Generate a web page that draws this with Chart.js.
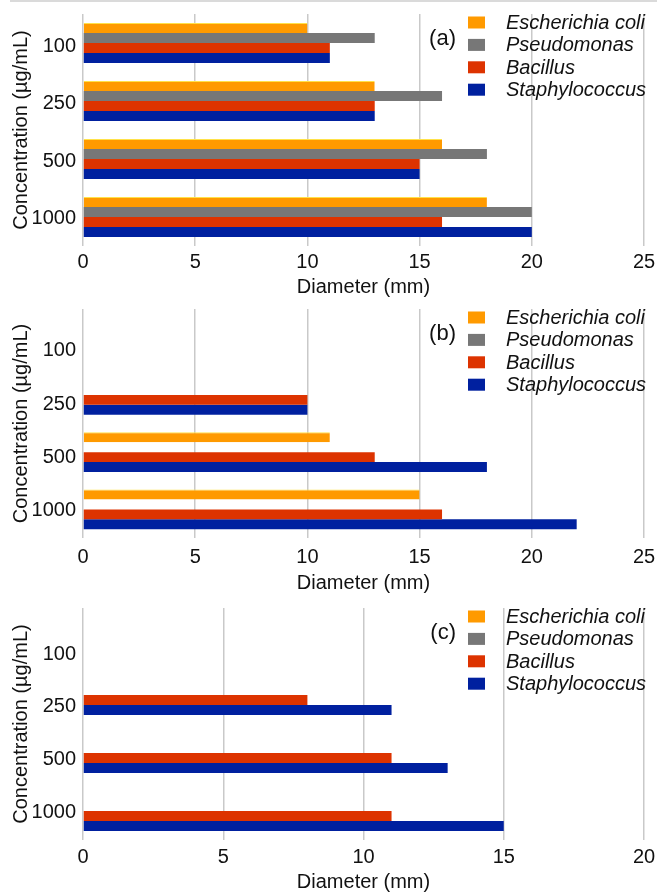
<!DOCTYPE html>
<html>
<head>
<meta charset="utf-8">
<script src="https://cdn.jsdelivr.net/npm/chart.js@4/dist/chart.umd.min.js"></script>
<style>
  html, body { margin: 0; padding: 0; background: #fff; }
  #page { position: relative; width: 657px; height: 892px; overflow: hidden; background: #fff; }
  #rule { position: absolute; left: 10px; right: 0; top: 0; height: 2px; background: #dadada; }
  .panel { position: absolute; left: 0; }
  canvas { display: block; }
</style>
</head>
<body>
<div id="page">
  <div id="rule"></div>
  <div class="panel" id="wrapA" style="top:0px"><canvas id="chartA" width="657" height="297"></canvas></div>
  <div class="panel" id="wrapB" style="top:297px"><canvas id="chartB" width="657" height="296"></canvas></div>
  <div class="panel" id="wrapC" style="top:593px"><canvas id="chartC" width="657" height="299"></canvas></div>
</div>
<script>
// Concentrations tested (y axis categories)
const concentrations = ['100', '250', '500', '1000'];
const species = ['Escherichia coli', 'Pseudomonas', 'Bacillus', 'Staphylococcus'];
const speciesColors = ['#ff9a00', '#777777', '#dd3300', '#00209f'];

// Inhibition zone diameters (mm), panel (a)
const ecoliA  = [10, 13, 16, 18];
const pseudoA = [13, 16, 18, 20];
const bacA    = [11, 13, 15, 16];
const staphA  = [11, 13, 15, 20];

// Panel (b)
const ecoliB  = [null, null, 11, 15];
const pseudoB = [null, null, null, null];
const bacB    = [null, 10, 13, 16];
const staphB  = [null, 10, 18, 22];

// Panel (c)
const ecoliC  = [null, null, null, null];
const pseudoC = [null, null, null, null];
const bacC    = [null, 8, 11, 11];
const staphC  = [null, 11, 13, 15];

// x axis tick limits per panel
const xMaxA = 25, xMaxB = 25, xMaxC = 20;
const xStep = 5;

const FONT = "'Liberation Sans', Arial, Helvetica, sans-serif";
const TEXT = '#111111';

// Legend and panel tag drawn inside the plot's upper-right corner
const cornerLegend = {
  id: 'cornerLegend',
  afterDraw(chart, args, opts) {
    const ctx = chart.ctx;
    const top = chart.chartArea.top;
    ctx.save();
    ctx.textBaseline = 'middle';
    chart.data.datasets.forEach((ds, i) => {
      const cy = top + 8.5 + i * 22.4;
      ctx.fillStyle = ds.backgroundColor;
      ctx.fillRect(468, cy - 6, 17, 12);
      ctx.fillStyle = TEXT;
      ctx.textAlign = 'left';
      ctx.font = 'italic 20px ' + FONT;
      ctx.fillText(ds.label, 506, cy + 1);
    });
    ctx.font = '22px ' + FONT;
    ctx.textAlign = 'right';
    ctx.fillStyle = TEXT;
    ctx.fillText(opts.tag, 456, top + 25);
    ctx.restore();
  }
};

function makeChart(canvasId, tag, series, xMax, layout) {
  const datasets = series.map((vals, i) => ({
    label: species[i],
    data: vals,
    backgroundColor: speciesColors[i],
    borderColor: i === 0 ? '#ffe24a' : speciesColors[i],
    borderWidth: i === 0 ? { top: 1, right: 0, bottom: 0, left: 0 } : 0,
    borderSkipped: 'start',
    categoryPercentage: 0.69,
    barPercentage: 1.0
  }));

  return new Chart(document.getElementById(canvasId), {
    type: 'bar',
    data: { labels: concentrations, datasets },
    plugins: [cornerLegend],
    options: {
      indexAxis: 'y',
      responsive: false,
      animation: false,
      layout: { padding: { top: layout.padTop, left: 11, right: 13, bottom: 0 } },
      plugins: {
        legend: { display: false },
        tooltip: { enabled: false },
        cornerLegend: { tag }
      },
      scales: {
        x: {
          type: 'linear',
          min: 0,
          max: xMax,
          ticks: {
            stepSize: xStep,
            padding: layout.tickPad,
            color: TEXT,
            font: { family: FONT, size: 20 }
          },
          grid: { color: '#c9c9c9', lineWidth: 1.5, drawTicks: false },
          border: { display: false },
          title: {
            display: true,
            text: 'Diameter (mm)',
            color: TEXT,
            font: { family: FONT, size: 20, lineHeight: 1 },
            padding: 0
          },
          afterFit(s) { s.height = layout.axisH; s.paddingLeft = 0; s.paddingRight = 0; }
        },
        // category axis that places the bar groups
        y: {
          type: 'category',
          display: false
        },
        // label axis carrying the concentration names and the axis title
        yl: {
          type: 'linear',
          position: 'left',
          reverse: true,
          offset: false,
          min: layout.labelMin,
          max: layout.labelMax,
          afterBuildTicks(s) { s.ticks = concentrations.map((_, i) => ({ value: i })); },
          ticks: {
            padding: 7,
            color: TEXT,
            font: { family: FONT, size: 20 },
            callback: (v) => concentrations[v]
          },
          grid: { display: false, drawTicks: false, offset: false },
          border: { display: false },
          title: {
            display: true,
            text: 'Concentration (µg/mL)',
            color: TEXT,
            font: { family: FONT, size: 20, lineHeight: 1 },
            padding: 0
          },
          afterFit(s) { s.width = 72; s.paddingTop = 0; s.paddingBottom = 0; }
        }
      }
    }
  });
}

makeChart('chartA', '(a)', [ecoliA, pseudoA, bacA, staphA], xMaxA,
  { padTop: 14, axisH: 51, tickPad: 4, labelMin: -0.565, labelMax: 3.470 });
makeChart('chartB', '(b)', [ecoliB, pseudoB, bacB, staphB], xMaxB,
  { padTop: 12, axisH: 55, tickPad: 7, labelMin: -0.792, labelMax: 3.528 });
makeChart('chartC', '(c)', [ecoliC, pseudoC, bacC, staphC], xMaxC,
  { padTop: 15, axisH: 52, tickPad: 5, labelMin: -0.873, labelMax: 3.529 });
</script>
</body>
</html>
